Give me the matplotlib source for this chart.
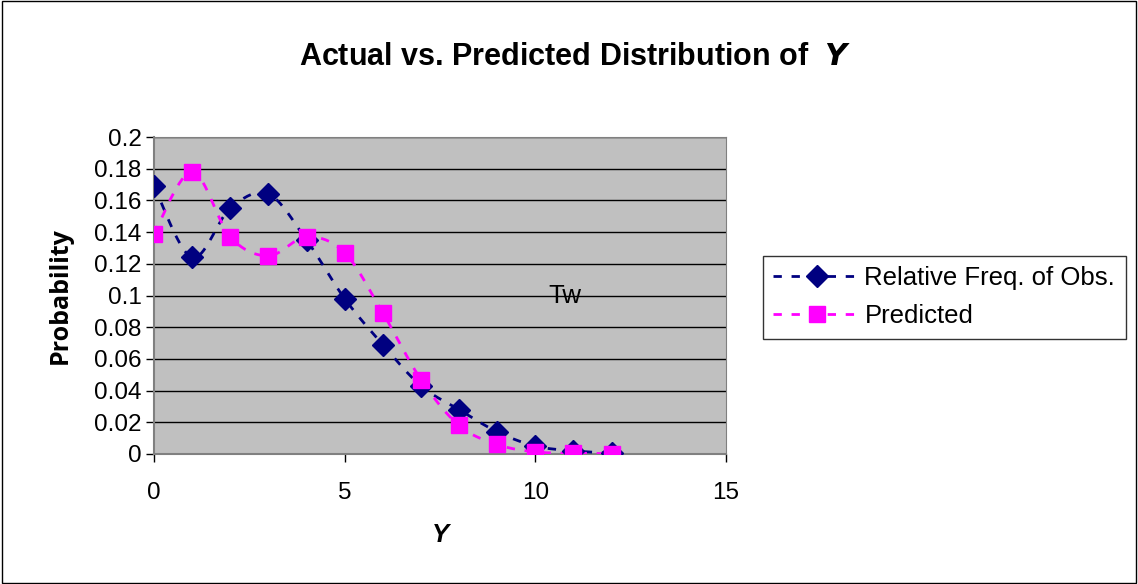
import numpy as np
import matplotlib.pyplot as plt
from matplotlib.patches import Rectangle

plt.rcParams['font.family'] = ['Liberation Sans', 'DejaVu Sans']

y_vals = list(range(13))
obs_freq = [0.169, 0.124, 0.155, 0.164, 0.135, 0.098, 0.069, 0.043, 0.028, 0.014, 0.005, 0.002, 0.0005]
predicted = [0.139, 0.178, 0.137, 0.125, 0.137, 0.127, 0.089, 0.047, 0.018, 0.006, 0.0013, 0.0006, 0.0002]


def smooth(x, y, n=20):
    # Catmull-Rom curve through the points, like a spreadsheet "smoothed line"
    x = np.asarray(x, float)
    y = np.asarray(y, float)
    px = np.concatenate([[x[0]], x, [x[-1]]])
    py = np.concatenate([[y[0]], y, [y[-1]]])
    xs, ys = [], []
    t = np.linspace(0, 1, n, endpoint=False)
    for i in range(1, len(px) - 2):
        for p, out in ((px, xs), (py, ys)):
            p0, p1, p2, p3 = p[i - 1], p[i], p[i + 1], p[i + 2]
            out.extend(p1 + t * (p2 - p0) / 2
                       + t ** 2 * (p0 - 2.5 * p1 + 2 * p2 - 0.5 * p3)
                       + t ** 3 * (-0.5 * p0 + 1.5 * p1 - 1.5 * p2 + 0.5 * p3))
    xs.append(x[-1])
    ys.append(y[-1])
    return np.array(xs), np.array(ys)


fig = plt.figure(figsize=(11.38, 5.84), dpi=100)
fig.patches.append(Rectangle((0.0015, 0.002), 0.997, 0.996, transform=fig.transFigure,
                             fill=False, edgecolor='black', linewidth=1))
ax = fig.add_axes([154 / 1138, 1 - 454 / 584, 572 / 1138, 317 / 584])
ax.set_facecolor('#C0C0C0')

navy = '#000080'
pink = '#FF00FF'
dash = (0, (3, 3.5))
for vals, col, mk, ms in ((obs_freq, navy, 'D', 11), (predicted, pink, 's', 11.5)):
    sx, sy = smooth(y_vals, vals)
    ax.plot(sx, sy, color=col, linestyle=dash, linewidth=2, zorder=3)
    ax.plot(y_vals, vals, color=col, linestyle='none', marker=mk, markersize=ms, zorder=4)

# legend entries drawn with the dashed line and marker
h1, = ax.plot([], [], color=navy, linestyle=dash, linewidth=2, marker='D', markersize=11)
h2, = ax.plot([], [], color=pink, linestyle=dash, linewidth=2, marker='s', markersize=11.5)
leg = fig.legend([h1, h2], ['Relative Freq. of Obs.', 'Predicted'],
                 loc='upper left', bbox_to_anchor=(763 / 1138, 1 - 256 / 584),
                 frameon=True, fancybox=False, edgecolor='black', fontsize=18.5,
                 handlelength=3.4, handletextpad=0.15, borderpad=0.4, labelspacing=0.55,
                 borderaxespad=0)
leg.get_frame().set_linewidth(1)

ax.set_xlim(0, 15)
ax.set_ylim(0, 0.2)
ax.set_xticks([0, 5, 10, 15])
ax.set_yticks(np.arange(0, 0.201, 0.02))
ax.set_yticklabels(['0', '0.02', '0.04', '0.06', '0.08', '0.1', '0.12', '0.14',
                    '0.16', '0.18', '0.2'])
ax.yaxis.grid(True, color='black', linewidth=1)
ax.set_axisbelow(True)
ax.tick_params(labelsize=17.5, length=6, width=1, color='black', pad=3)
ax.tick_params(axis='x', pad=14)
for side in ('top', 'right'):
    ax.spines[side].set_color('#808080')
for side in ('left', 'bottom'):
    ax.spines[side].set_color('#808080')
    ax.spines[side].set_linewidth(1.5)

ax.text(548, 584 - 296, 'Tw', transform=None, fontsize=18.5, va='center')

fig.text(0.5 * (298 + 852) / 1138, 1 - 57 / 584, 'Actual vs. Predicted Distribution of  $\\mathbfit{Y}$',
         ha='center', va='center', fontsize=22, fontweight='bold')
fig.text(440 / 1138, 1 - 535 / 584, 'Y', ha='center', va='center', fontsize=18.5,
         fontweight='bold', fontstyle='italic')
fig.text(60 / 1138, 1 - 296 / 584, 'Probability', ha='center', va='center', fontsize=18,
         fontweight='bold', rotation=90, family=['Open Sans', 'DejaVu Sans'])

fig.savefig('out.png', dpi=100)
